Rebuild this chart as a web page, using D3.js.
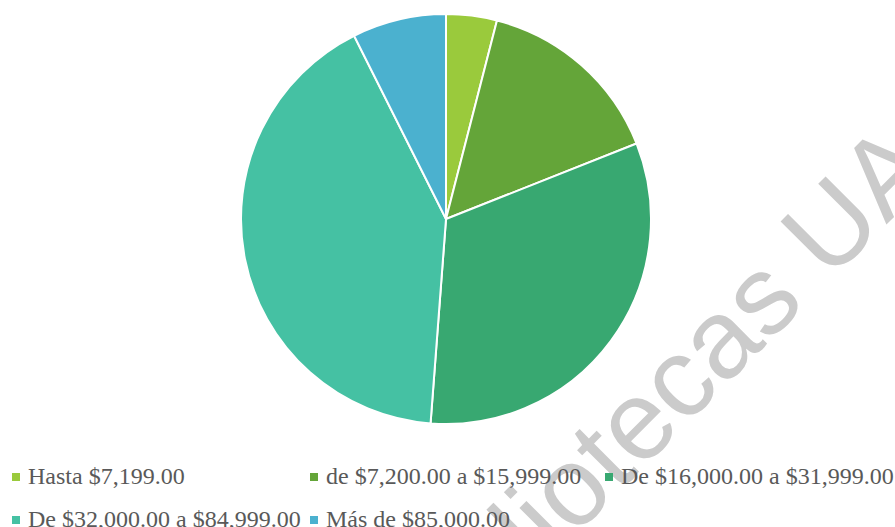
<!DOCTYPE html>
<html>
<head>
<meta charset="utf-8">
<script src="https://cdn.jsdelivr.net/npm/d3@7"></script>
<style>
  body { margin: 0; background: #fff; }
  svg { display: block; }
</style>
</head>
<body>
<div id="chart"></div>
<script>
// Data
const categories = [
  "Hasta $7,199.00",
  "de $7,200.00 a $15,999.00",
  "De $16,000.00 a $31,999.00",
  "De $32,000.00 a $84,999.00",
  "Más de $85,000.00"
];
const values = [4, 15, 32.2, 41.4, 7.4];
const colors = ["#9aca3c", "#64a539", "#38a871", "#45c1a3", "#4bb1cf"];

const width = 895;
const height = 527;
const cx = 446, cy = 219, radius = 205;

const data = categories.map((c, i) => ({ category: c, value: values[i] }));

const svg = d3.select("#chart")
  .append("svg")
    .attr("width", width)
    .attr("height", height)
    .attr("viewBox", `0 0 ${width} ${height}`);

/*********************/
/*    Draw the pie   */
/*********************/
const pie = d3.pie()
  .value(d => d.value)
  .sort(null);

const arc = d3.arc()
  .innerRadius(0)
  .outerRadius(radius);

const colorScale = d3.scaleOrdinal()
  .domain(categories)
  .range(colors);

const pieGroup = svg.append("g")
  .attr("transform", `translate(${cx}, ${cy})`);

pieGroup.selectAll("path")
  .data(pie(data))
  .join("path")
    .attr("d", arc)
    .attr("fill", d => colorScale(d.data.category))
    .attr("stroke", "#ffffff")
    .attr("stroke-width", 2)
    .attr("stroke-linejoin", "round");

/*********************/
/*    Watermark      */
/*********************/
svg.append("text")
  .attr("transform", "translate(424, 687) rotate(-45)")
  .attr("font-family", "'Liberation Sans', Arial, sans-serif")
  .attr("font-size", 112)
  .attr("fill", "#cbcbcb")
  .text("Bibliotecas UAQ");

/*********************/
/*    Legend         */
/*********************/
const legendCols = [12, 310, 605];
const legendRows = [484, 527];
const legend = svg.append("g");

const items = legend.selectAll("g.item")
  .data(categories)
  .join("g")
    .attr("class", "item")
    .attr("transform", (d, i) => `translate(${legendCols[i % 3]}, ${legendRows[Math.floor(i / 3)]})`);

items.append("rect")
  .attr("x", 0)
  .attr("y", -11)
  .attr("width", 8)
  .attr("height", 8)
  .attr("fill", d => colorScale(d));

items.append("text")
  .attr("x", 16)
  .attr("y", 0)
  .attr("font-family", "'Liberation Serif', 'Times New Roman', serif")
  .attr("font-size", 24)
  .attr("fill", "#595959")
  .text(d => d);
</script>
</body>
</html>
